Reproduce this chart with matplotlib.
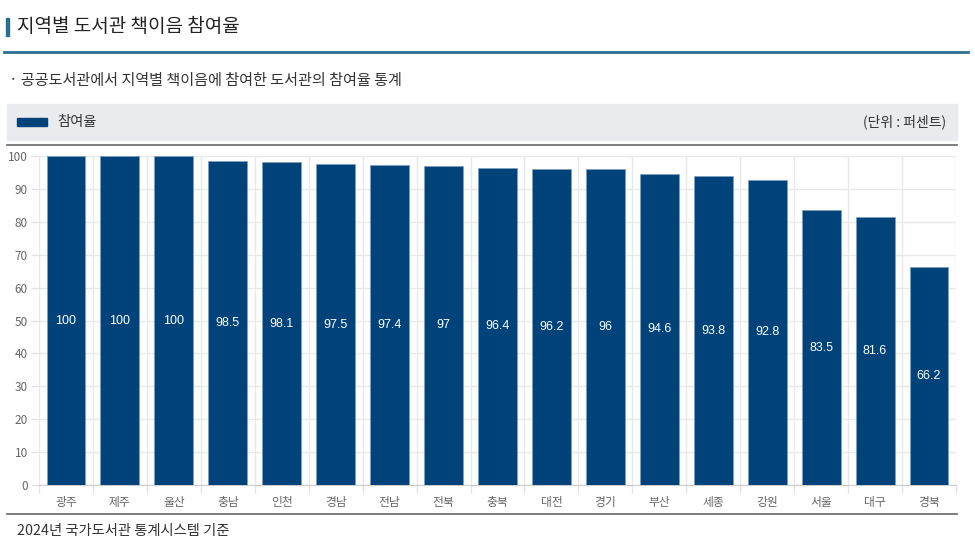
import matplotlib.pyplot as plt
from matplotlib.patches import Rectangle
from matplotlib.lines import Line2D

plt.rcParams['font.family'] = ['Noto Sans CJK KR', 'DejaVu Sans']

# data
regions = ['광주', '제주', '울산', '충남', '인천', '경남', '전남', '전북', '충북',
           '대전', '경기', '부산', '세종', '강원', '서울', '대구', '경북']
rates = [100, 100, 100, 98.5, 98.1, 97.5, 97.4, 97, 96.4,
         96.2, 96, 94.6, 93.8, 92.8, 83.5, 81.6, 66.2]
yticks = list(range(0, 101, 10))

W, H = 975, 547
fig = plt.figure(figsize=(W / 100, H / 100), dpi=100)


def fx(px):
    return px / W


def fy(py):
    return 1 - py / H


bar_color = '#00437a'
teal = '#2a6f8f'

# title block
fig.patches.append(Rectangle((fx(6), fy(36)), fx(3), 18 / H, transform=fig.transFigure,
                             color=teal, zorder=3))
fig.text(fx(17), fy(27), '지역별 도서관 책이음 참여율', fontsize=13.7, color='#222222',
         va='center', ha='left')
fig.lines.append(Line2D([fx(4), fx(968)], [fy(52), fy(52)], transform=fig.transFigure,
                        color=teal, lw=2))
fig.text(fx(9), fy(80), '· 공공도서관에서 지역별 책이음에 참여한 도서관의 참여율 통계',
         fontsize=10.9, color='#333333', va='center', ha='left')

# legend band
fig.patches.append(Rectangle((fx(7), fy(140)), fx(950), 36 / H, transform=fig.transFigure,
                             color='#e9ebee', zorder=1))
fig.patches.append(Rectangle((fx(17), fy(126)), fx(30), 8 / H, transform=fig.transFigure,
                             color=bar_color, zorder=2))
fig.text(fx(57), fy(122), '참여율', fontsize=10.3, color='#333333', va='center', ha='left')
fig.text(fx(946), fy(122), '(단위 : 퍼센트)', fontsize=10, color='#333333',
         va='center', ha='right')
fig.lines.append(Line2D([fx(7), fx(957)], [fy(145), fy(145)], transform=fig.transFigure,
                        color='#666666', lw=1.2))
fig.lines.append(Line2D([fx(7), fx(957)], [fy(514), fy(514)], transform=fig.transFigure,
                        color='#666666', lw=1.2))

# footer
fig.text(fx(17), fy(531), '2024년 국가도서관 통계시스템 기준', fontsize=10.3, color='#333333',
         va='center', ha='left')

# chart
ax = fig.add_axes([fx(39), fy(485), fx(956 - 39), (485 - 156) / H])
x = list(range(len(regions)))
bars = ax.bar(x, rates, width=0.72, color=bar_color, edgecolor='#7f9fbf',
              linewidth=0.6, zorder=3)
for xi, v in zip(x, rates):
    ax.text(xi, v / 2, f'{v:g}', ha='center', va='center', color='white',
            fontsize=9, family=['Liberation Sans'], zorder=4)

ax.set_xlim(-0.5, len(regions) - 0.5)
ax.set_ylim(0, 100)
ax.set_yticks(yticks)
ax.set_xticks(x)
ax.set_xticklabels(regions)
ax.set_xticks([i - 0.5 for i in range(len(regions) + 1)], minor=True)
ax.tick_params(axis='x', which='major', length=0, pad=8, labelsize=8.5, labelcolor='#666666')
ax.tick_params(axis='x', which='minor', length=6, color='#e3e3e3', width=1)
ax.tick_params(axis='y', length=6, color='#e3e3e3', width=1, labelsize=8.5,
               labelcolor='#666666', pad=2)
ax.grid(True, which='minor', axis='x', color='#e8e8e8', lw=1, zorder=0)
ax.grid(True, which='major', axis='y', color='#e8e8e8', lw=1, zorder=0)
for s in ['top', 'right', 'left']:
    ax.spines[s].set_visible(False)
ax.spines['bottom'].set_color('#cccccc')
ax.set_facecolor('none')

fig.savefig('out.png', dpi=100)
